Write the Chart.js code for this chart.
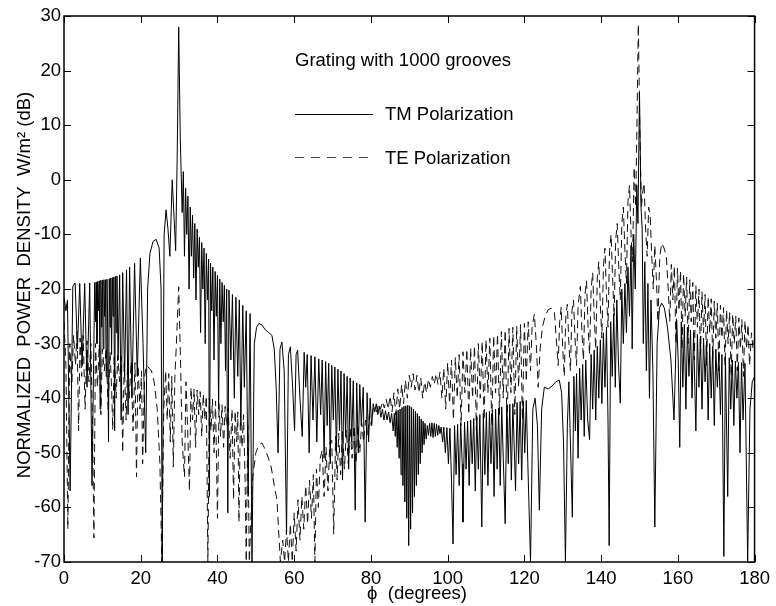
<!DOCTYPE html>
<html>
<head>
<meta charset="utf-8">
<script src="https://cdn.jsdelivr.net/npm/chart.js@4.4.1/dist/chart.umd.min.js"></script>
<style>
html,body{margin:0;padding:0;background:#fff;}
#wrap{width:776px;height:606px;}
</style>
</head>
<body>
<div id="wrap"><canvas id="c" width="776" height="606"></canvas></div>
<script>
// ---------- DATA ----------
const xTickValues = [0,20,40,60,80,100,120,140,160,180];
const yTickValues = [-70,-60,-50,-40,-30,-20,-10,0,10,20,30];
const seriesNames = ["TM Polarization","TE Polarization"];
const noteText = "Grating with 1000 grooves";

// TM polarization (solid) : [phi (deg), dB]
const tm1 = [[0,-21.5],[0.5,-24],[0.9,-22],[1.6,-57],[2.3,-19.5],[2.9,-18.9],[3.5,-31],[4.1,-19],[4.7,-34],[5.4,-19],[6.0,-38],[6.7,-18.9],[7.3,-56],[8.0,-18.8],[8.2,-26],[8.4,-18.7],[8.6,-30],[8.8,-18.6],[9.0,-24],[9.2,-18.5],[9.4,-42],[9.6,-18.4],[9.8,-27],[10.0,-18.4],[10.2,-31],[10.4,-18.3],[10.6,-25],[10.8,-18.3],[11.0,-36],[11.2,-18.2],[11.4,-28],[11.6,-48],[11.8,-18.1],[12.0,-27],[12.2,-18],[12.4,-32],[12.6,-17.9],[12.8,-25],[13.0,-17.8],[13.2,-46],[13.4,-17.7],[13.6,-28],[13.8,-17.6],[14.1,-33],[14.5,-17.4],[14.9,-44],[15.3,-17],[15.8,-36],[16.3,-16.5],[16.7,-43],[17.1,-16],[17.7,-40],[18.4,-15.3],[19.1,-36],[19.9,-14.3],[20.6,-30],[21.3,-50],[21.8,-20],[22.4,-13.5],[23.2,-11.3],[24.0,-10.9],[24.8,-12.5],[25.3,-20],[25.6,-70],[26.1,-10],[26.6,-5.5],[27.1,-9],[27.6,-14],[28.2,0],[28.7,-7],[29.1,-13],[29.5,4],[29.9,28],[30.3,8],[30.8,-6]];
const tm2 = [[31.1,1.5],[31.4,-14],[31.7,-1.5],[32.0,-10],[32.3,-3],[32.6,-20],[32.9,-5],[33.2,-14],[33.5,-6.5],[33.8,-18],[34.1,-8],[34.4,-22],[34.7,-9],[35.0,-16],[35.3,-10.5],[35.6,-28],[35.9,-11.5],[36.2,-20],[36.5,-12.5],[36.8,-30],[37.1,-13.5],[37.4,-22],[37.7,-14.5],[37.9,-58],[38.2,-15.3],[38.5,-24],[38.8,-16],[39.1,-33],[39.4,-16.8],[39.7,-25],[40.0,-17.5],[40.3,-42],[40.6,-18.2],[40.9,-30],[41.2,-18.8],[41.5,-26],[41.8,-19.3],[42.1,-35],[42.4,-20],[42.7,-61],[43.0,-20.2],[43.5,-33],[43.9,-21],[44.4,-40],[44.8,-21.5],[45.3,-36],[45.7,-22],[46.1,-45],[46.6,-23],[47.0,-38],[47.5,-24],[48.0,-58],[48.5,-24.5],[49.0,-70],[49.6,-30],[50.2,-27],[50.8,-26.3],[51.6,-26.6],[52.5,-27.5],[53.4,-28],[54.2,-28.5],[54.8,-31],[55.3,-38],[55.8,-50]];
const tm3 = [[56.3,-31],[56.8,-29.7],[57.4,-35],[58.0,-65],[58.5,-32],[59.0,-30.6],[59.6,-38],[60.1,-46],[60.5,-32],[60.9,-31.2],[61.5,-40],[62.1,-47],[62.6,-31.6],[63.0,-38],[63.4,-32],[63.9,-50],[64.4,-32.2],[64.9,-44],[65.4,-32.4],[65.9,-48],[66.4,-32.8],[66.9,-43],[67.3,-33],[67.8,-51],[68.2,-33.3],[68.6,-45],[69.0,-33.6],[69.4,-52],[69.8,-34],[70.2,-44],[70.6,-34.3],[71.0,-50],[71.4,-34.7],[71.8,-46],[72.2,-35],[72.6,-55],[73.0,-35.5],[73.4,-47],[73.8,-36],[74.2,-53],[74.6,-36.3],[75.0,-48],[75.4,-36.8],[75.9,-60.5],[76.3,-37.2],[76.7,-50],[77.1,-37.5],[77.5,-45],[78.0,-38],[78.5,-62.7],[79.0,-39],[79.4,-48],[79.8,-40],[80.2,-45],[80.6,-41]];
const tm4 = [[81.0,-42.5],[81.4,-41],[81.8,-43],[82.2,-41.5],[82.6,-43.5],[83.0,-42],[83.4,-44],[83.8,-42.3],[84.2,-44],[84.6,-42.5],[85.0,-44.5],[85.4,-42.8],[85.8,-46],[86.1,-42.8],[86.35,-47],[86.6,-42.5],[86.85,-49],[87.1,-42.2],[87.35,-51],[87.6,-42],[87.85,-54],[88.1,-41.7],[88.35,-56],[88.6,-41.5],[88.85,-59],[89.1,-41.4],[89.35,-62],[89.6,-41.3],[89.85,-67],[90.1,-41.4],[90.35,-64],[90.6,-41.7],[90.85,-61],[91.1,-42],[91.35,-58],[91.6,-42.4],[91.85,-56],[92.1,-42.8],[92.35,-54],[92.6,-43.3],[92.85,-52],[93.1,-43.8],[93.35,-50],[93.6,-44.2],[93.85,-48.5],[94.1,-44.6],[94.4,-47.5],[94.7,-45],[95.0,-46.8],[95.3,-44.6],[95.6,-47],[95.9,-44.5],[96.2,-47.2],[96.5,-44.6],[96.8,-47],[97.1,-44.8],[97.4,-46.8],[97.7,-45],[98.0,-46.5],[98.3,-45.3],[98.7,-48],[99.0,-45.3],[99.4,-50],[99.8,-45.4]];
const tm5 = [[100.2,-52],[100.6,-45.5],[101.0,-55],[101.4,-66.7],[101.8,-45],[102.2,-54],[102.6,-44.8],[103.0,-56],[103.4,-44.6],[103.8,-52],[104.0,-62.7],[104.4,-44.4],[104.8,-53],[105.2,-44.2],[105.6,-56],[106.0,-44],[106.4,-52],[106.8,-43.7],[107.2,-57],[107.6,-43.4],[108.0,-53],[108.4,-43],[108.9,-63.6],[109.3,-42.8],[109.7,-54],[110.1,-42.6],[110.5,-56],[110.9,-42.4],[111.3,-52],[111.7,-42.2],[112.1,-58],[112.5,-42],[112.9,-53],[113.3,-41.8],[113.7,-56],[114.1,-41.6],[114.5,-51],[115.0,-63],[115.4,-41.3],[115.8,-52],[116.2,-41.1],[116.6,-55],[117.0,-41],[117.4,-50],[117.7,-57],[118.1,-40.8],[118.5,-52],[118.9,-40.6],[119.3,-55],[119.7,-40.5],[120.1,-50],[120.5,-40.4],[120.9,-52],[121.6,-70],[122.2,-42],[122.8,-40],[123.4,-45],[123.9,-60.5],[124.5,-42],[125.2,-38],[126.2,-38.3],[127.2,-37.8],[128.2,-37],[129.1,-36.7],[129.7,-39],[130.2,-48],[130.7,-70]];
const tm6 = [[131.2,-45],[131.6,-37],[132.0,-48],[132.5,-61.8],[132.9,-36],[133.3,-46],[133.6,-35.5],[134.0,-51],[134.4,-34.5],[134.8,-44],[135.2,-33.8],[135.6,-47],[136.0,-33],[136.5,-44],[137.0,-47.6],[137.4,-32],[137.8,-42],[138.2,-31.2],[138.6,-44],[139.0,-30.5],[139.4,-40],[139.8,-29.3],[140.2,-41],[140.6,-28],[141.0,-38],[141.4,-27],[141.8,-44],[142.1,-67],[142.5,-26],[142.9,-36],[143.3,-24.5],[143.7,-38],[144.1,-22],[144.5,-33],[145.0,-40.9],[145.4,-20],[145.8,-30],[146.2,-19],[146.6,-28],[147.0,-16],[147.4,-25],[147.8,-12],[148.1,-31],[148.5,-10],[148.9,-20],[149.3,-1],[149.6,-8],[150.0,16]];
const tm7 = [[150.4,-5],[150.7,-9],[151.0,-30],[151.4,-15],[151.8,-35],[152.2,-19],[152.6,-40],[153.0,-22],[153.5,-35],[154.0,-63.6],[154.6,-30],[155.2,-23.5],[155.8,-22.6],[156.5,-23.5],[157.3,-27],[158.2,-33],[159.0,-44],[159.7,-25.7],[160.1,-33],[160.5,-49],[160.9,-26],[161.3,-38],[161.7,-26.5],[162.1,-42],[162.5,-27],[162.9,-36],[163.3,-27.5],[163.7,-40],[164.1,-28],[164.7,-46],[165.1,-28.3],[165.5,-38],[165.9,-28.6],[166.3,-42],[166.7,-29],[167.1,-37],[167.5,-29.5],[167.9,-44],[168.3,-30],[168.7,-40],[169.1,-30.5],[169.5,-45],[169.9,-31],[170.3,-38],[170.7,-31.5],[171.1,-43],[171.5,-32],[172.0,-69],[172.4,-32.3],[173.0,-58],[173.4,-32.6],[173.8,-42],[174.2,-33],[174.6,-45],[175.0,-33.2],[175.4,-40],[175.8,-33.4],[176.2,-50],[176.6,-33.5],[177.0,-44],[177.5,-33.6],[178.2,-70],[178.8,-42],[179.4,-37],[180,-36]];

// TE polarization (dashed) : [phi (deg), dB]
const te1 = [[0,-26],[0.5,-34],[1.0,-64],[1.5,-30],[2.0,-38],[2.5,-28.5],[3.0,-34],[3.4,-27.8],[3.8,-46],[4.2,-29],[4.6,-36],[5.0,-28.5],[5.5,-42],[6.0,-29.5],[6.5,-37],[7.0,-30],[7.4,-44],[7.8,-65.6],[8.2,-30],[8.7,-38],[9.2,-30.2],[9.6,-43],[10.0,-31],[10.5,-35],[11.0,-30.8],[11.5,-42],[12.0,-31.5],[12.4,-38],[12.7,-45.8],[13.1,-32],[13.6,-40],[14.0,-32.2],[14.5,-37],[14.9,-32.4],[15.3,-50],[15.7,-33],[16.2,-44],[16.6,-33],[17.0,-40],[17.5,-33.3],[18.0,-46],[18.5,-33.5],[18.9,-54.4],[19.3,-34],[19.8,-42],[20.2,-35],[20.5,-52],[21.0,-36],[21.5,-34],[22.2,-34.5],[22.8,-35],[23.5,-37],[24.3,-42],[25.0,-52],[25.5,-70],[26.0,-42],[26.5,-35],[26.9,-44],[27.3,-35.5],[27.7,-48],[28.1,-36],[28.5,-52.6],[28.9,-36],[29.3,-30],[29.9,-19.6],[30.4,-34]];
const te2 = [[30.8,-48],[31.4,-54.4],[31.8,-37],[32.2,-45],[32.7,-57],[33.1,-38],[33.5,-44],[33.9,-38.3],[34.3,-49],[34.7,-38.5],[35.1,-43],[35.5,-38.8],[35.9,-47],[36.3,-39.2],[36.7,-44],[37.1,-39.6],[37.5,-70],[37.9,-40],[38.3,-46],[38.7,-40.2],[39.1,-50],[39.5,-40.5],[40.0,-62],[40.4,-41],[40.8,-47],[41.2,-41.2],[41.6,-49],[42.0,-41.5],[42.4,-45],[42.8,-41.8],[43.3,-51],[43.8,-42],[44.2,-58.6],[44.6,-42.3],[45.0,-48],[45.3,-42.5],[45.6,-62.7],[46.0,-42.8],[46.4,-49],[46.8,-43],[47.2,-55],[47.5,-70],[47.9,-45],[48.3,-70],[49.1,-55],[50.0,-50],[50.8,-48.5],[51.6,-48.2],[52.5,-49.5],[53.3,-51],[54.0,-52.6],[54.8,-56],[55.5,-58.6],[56.4,-70]];
const te3 = [[57.0,-66],[57.5,-70],[58.0,-64],[58.5,-70],[59.0,-63],[59.5,-70],[60.0,-61],[60.5,-68],[61.0,-58.6],[61.5,-66],[62.0,-58],[62.5,-64],[63.0,-56],[63.5,-63],[64.0,-55],[64.5,-62],[65.0,-54],[65.4,-70],[65.8,-53],[66.3,-60],[66.8,-51],[67.3,-49.5],[67.8,-58],[68.3,-49],[68.8,-57],[69.3,-48],[69.8,-47.7],[70.3,-64.9],[70.8,-47],[71.2,-55],[71.6,-46.4],[72.1,-54],[72.6,-46],[73.1,-53],[73.6,-45.8],[74.1,-52],[74.6,-45.5],[75.1,-51],[75.6,-45],[76.1,-52],[76.6,-44.8],[77.1,-50],[77.6,-44.5],[78.1,-48],[78.6,-44],[79.1,-47],[79.6,-43],[80.1,-45],[80.6,-42]];
const te4 = [[81.0,-41.6],[81.5,-42.5],[82.0,-41],[82.5,-42],[83.0,-40.6],[83.5,-41.8],[84.0,-40.2],[84.5,-42],[85.0,-39.6],[85.5,-42.5],[86.0,-39],[86.5,-43],[87.0,-38.3],[87.5,-42],[88.0,-37.5],[88.5,-41],[89.0,-36.7],[89.5,-40],[90.0,-35.8],[90.5,-38],[91.0,-35.5],[91.5,-38.5],[92.0,-35.8],[92.5,-39],[93.0,-36.3],[93.5,-40],[94.0,-37],[94.5,-39],[95.0,-36.5],[95.5,-38],[96.0,-36],[96.5,-37.5],[97.0,-35.5],[97.5,-37.5],[98.0,-35.2],[98.5,-40],[99.0,-34.5],[99.5,-42],[100.0,-33.5],[100.5,-41],[101.0,-33],[101.5,-44],[102.0,-32.5],[102.5,-40],[103.0,-32],[103.5,-45],[104.0,-31.5],[104.5,-39],[105.0,-31],[105.5,-43],[106.0,-30.8],[106.5,-40],[107.0,-30.4],[107.5,-46],[108.0,-30],[108.5,-40],[109.0,-29.6],[109.5,-44],[110.0,-29.3],[110.5,-39],[111.0,-29],[111.5,-45],[112.0,-28.5],[112.5,-39],[113.0,-28.2],[113.5,-43],[114.0,-27.8],[114.5,-40],[115.0,-27.5],[115.5,-46],[116.0,-27.2],[116.5,-39],[117.0,-27],[117.5,-43],[118.0,-26.8],[118.5,-38],[119.0,-26.5],[119.5,-44],[120.0,-26.3],[120.5,-37],[121.0,-26]];
const te5 = [[121.6,-35],[122.0,-27],[122.6,-24.6],[123.1,-30],[123.6,-38],[124.1,-31],[124.7,-27],[125.4,-25],[126.2,-23.8],[127.0,-23.5],[127.8,-24],[128.3,-29],[128.8,-34],[129.2,-26],[129.6,-23.3],[130.0,-31],[130.4,-36],[130.8,-25],[131.2,-22.8],[131.6,-30],[132.0,-35],[132.4,-24],[132.8,-22],[133.2,-29],[133.6,-34],[134.0,-23],[134.6,-19.5],[135.0,-28],[135.4,-33],[135.8,-21],[136.2,-18.5],[136.6,-27],[137.0,-32],[137.4,-20],[137.8,-17],[138.2,-25],[138.6,-31],[139.0,-18],[139.4,-15],[139.8,-23],[140.2,-29],[140.6,-16],[141.0,-12.5],[141.4,-21],[141.8,-27],[142.2,-13],[142.6,-10],[143.0,-18],[143.4,-25],[143.8,-11],[144.2,-8],[144.6,-16],[145.0,-22],[145.4,-8],[145.8,-5],[146.2,-13],[146.6,-19],[147.0,-4],[147.4,-1],[147.8,-10],[148.2,-15],[148.6,2.3],[149.0,-5],[149.3,8],[149.7,28.5],[150.1,9]];
const te6 = [[150.5,-5],[150.9,-2],[151.2,-0.6],[151.6,-9],[152.0,-14],[152.4,-5],[152.8,-6.8],[153.2,-14],[153.6,-20],[154.0,-12],[154.4,-18],[154.8,-26],[155.3,-14],[155.8,-11.6],[156.4,-12.5],[157.0,-14],[157.5,-20],[157.9,-26],[158.3,-15.5],[158.7,-22],[159.1,-15.8],[159.5,-30],[159.9,-16.2],[160.3,-24],[160.7,-16.6],[161.1,-31],[161.5,-17.2],[161.9,-25],[162.3,-17.8],[162.7,-30],[163.1,-18.3],[163.5,-26],[163.9,-18.8],[164.3,-33],[164.7,-19.4],[165.1,-27],[165.5,-20],[165.9,-32],[166.3,-20.5],[166.7,-28],[167.1,-21],[167.5,-34],[167.9,-21.4],[168.3,-28],[168.7,-21.8],[169.1,-33],[169.5,-22.2],[169.9,-29],[170.3,-22.6],[170.7,-35],[171.1,-23],[171.5,-29],[171.9,-23.4],[172.3,-34],[172.7,-23.8],[173.1,-30],[173.5,-24.2],[173.9,-36],[174.3,-24.6],[174.7,-30],[175.1,-25],[175.5,-35],[175.9,-25.3],[176.3,-31],[176.7,-25.6],[177.1,-36],[177.5,-25.8],[177.9,-31],[178.3,-26.5],[178.7,-34],[179.2,-28],[179.6,-31],[180,-29]];

// ---------- BUILD ----------
const toPts = arr => arr.map(p => ({x: p[0], y: p[1]}));
const tmData = toPts([].concat(tm1, tm2, tm3, tm4, tm5, tm6, tm7));
const teData = toPts([].concat(te1, te2, te3, te4, te5, te6));

const FONT = '"Liberation Sans", Arial, Helvetica, sans-serif';
const FS = 18.5;

const overlay = {
  id: 'overlay',
  afterDraw(chart) {
    const {ctx, chartArea: a, scales} = chart;
    const xs = scales.x, ys = scales.y;
    ctx.save();
    // frame
    ctx.strokeStyle = '#000';
    ctx.lineWidth = 1.5;
    ctx.strokeRect(a.left, a.top, a.right - a.left, a.bottom - a.top);
    // inward ticks on all four sides
    ctx.lineWidth = 1;
    ctx.beginPath();
    xTickValues.forEach(v => {
      const px = Math.round(xs.getPixelForValue(v)) + 0.5;
      ctx.moveTo(px, a.bottom); ctx.lineTo(px, a.bottom - 7);
      ctx.moveTo(px, a.top); ctx.lineTo(px, a.top + 7);
    });
    yTickValues.forEach(v => {
      const py = Math.round(ys.getPixelForValue(v)) + 0.5;
      ctx.moveTo(a.left, py); ctx.lineTo(a.left + 7, py);
      ctx.moveTo(a.right, py); ctx.lineTo(a.right - 7, py);
    });
    ctx.stroke();

    ctx.fillStyle = '#000';
    ctx.font = FS + 'px ' + FONT;
    ctx.textBaseline = 'alphabetic';
    ctx.textAlign = 'left';
    // note + legend
    ctx.fillText(noteText, 295, 66);
    ctx.fillText(seriesNames[0], 385, 120);
    ctx.fillText(seriesNames[1], 385, 164);
    ctx.beginPath();
    ctx.lineWidth = 1;
    ctx.moveTo(295, 114.5); ctx.lineTo(373, 114.5);
    ctx.stroke();
    ctx.strokeStyle = '#444';
    ctx.setLineDash([9, 7]);
    ctx.beginPath();
    ctx.moveTo(295, 157.5); ctx.lineTo(373, 157.5);
    ctx.stroke();
    ctx.setLineDash([]);

    // x axis title
    ctx.textAlign = 'center';
    ctx.fillText('\u03D5  (degrees)', 417, 599);
    // y axis title (rotated)
    ctx.translate(30, 285);
    ctx.rotate(-Math.PI / 2);
    ctx.fillText('NORMALIZED  POWER  DENSITY  W/m\u00B2 (dB)', 0, 0);
    ctx.restore();
  }
};

new Chart(document.getElementById('c'), {
  type: 'line',
  data: {
    datasets: [
      {label: seriesNames[0], data: tmData, borderColor: '#000', borderWidth: 1, pointRadius: 0, tension: 0, fill: false},
      {label: seriesNames[1], data: teData, borderColor: '#111', borderWidth: 1, borderDash: [8, 5], pointRadius: 0, tension: 0, fill: false}
    ]
  },
  options: {
    responsive: false,
    animation: false,
    events: [],
    layout: {padding: {left: 0, right: 18, top: 16, bottom: 0}},
    plugins: {legend: {display: false}, tooltip: {enabled: false}, title: {display: false}},
    scales: {
      x: {
        type: 'linear', min: 0, max: 180,
        afterBuildTicks(s) { s.ticks = xTickValues.map(v => ({value: v})); },
        ticks: {autoSkip: false, maxRotation: 0, padding: 6, color: '#000', font: {family: FONT, size: FS}},
        grid: {display: false, drawTicks: false},
        border: {display: false},
        afterFit(s) { s.height = 44; }
      },
      y: {
        type: 'linear', min: -70, max: 30,
        afterBuildTicks(s) { s.ticks = yTickValues.map(v => ({value: v})); },
        ticks: {autoSkip: false, padding: 3, color: '#000', font: {family: FONT, size: FS}},
        grid: {display: false, drawTicks: false},
        border: {display: false},
        afterFit(s) { s.width = 64; }
      }
    }
  },
  plugins: [overlay]
});
</script>
</body>
</html>
